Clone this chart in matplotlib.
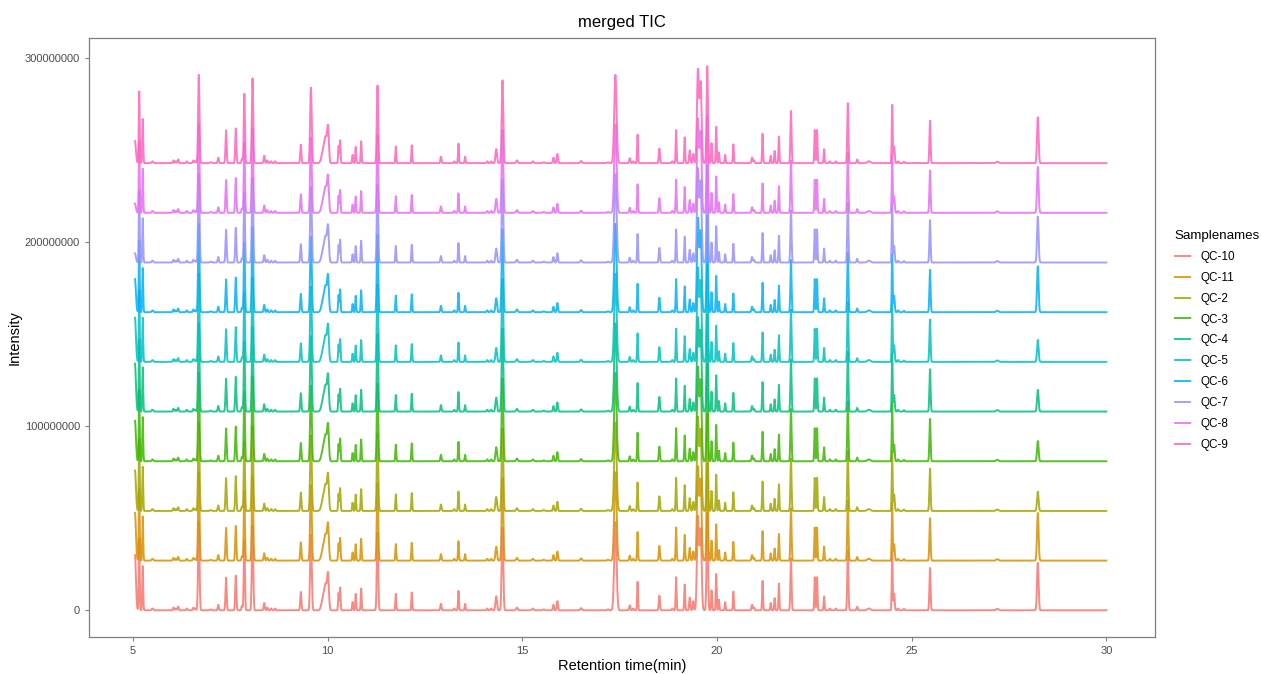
import numpy as np
import matplotlib
matplotlib.use("Agg")
import matplotlib.pyplot as plt
from matplotlib.lines import Line2D

plt.rcParams["font.family"] = ["Liberation Sans", "DejaVu Sans"]

# ---------------------------------------------------------
# data (intensities in units of 1e6)
# ---------------------------------------------------------
SAMPLES = ["QC-10", "QC-11", "QC-2", "QC-3", "QC-4",
           "QC-5", "QC-6", "QC-7", "QC-8", "QC-9"]
COLORS = ["#F8766D", "#D89000", "#A3A500", "#39B600", "#00BF7D",
          "#00BFC4", "#00B0F6", "#9590FF", "#E76BF3", "#FF62BC"]
BASELINES = [0, 27, 54, 81, 108, 135, 162, 189, 216, 243]
START_LEVEL = [30, 26, 22, 22, 26, 24, 18, 5, 5, 12]
LATE_PEAK = [26, 26, 10.5, 11, 11.8, 12, 25, 25, 25, 25]   # peak at 28.24 min

PEAK_RT = [5.16, 5.25, 5.50, 6.04, 6.10, 6.16, 6.38, 6.55, 6.60, 6.69,
           7.00, 7.19, 7.39, 7.64, 7.80, 7.86, 8.07, 8.37, 8.45, 8.55,
           8.65, 9.31, 9.57, 9.88, 9.95, 10.01, 10.28, 10.32, 10.64, 10.72,
           10.86, 11.28, 11.75, 12.16, 12.91, 13.25, 13.36, 13.53, 14.10, 14.20,
           14.33, 14.49, 14.86, 15.27, 15.55, 15.80, 15.90, 16.51, 17.20, 17.39,
           17.76, 17.85, 17.96, 18.52, 18.85, 18.95, 19.17, 19.30, 19.39, 19.51,
           19.58, 19.75, 19.86, 19.98, 20.05, 20.21, 20.42, 20.90, 20.95, 21.17,
           21.38, 21.48, 21.59, 21.90, 22.51, 22.57, 22.75, 22.90, 23.05, 23.36,
           23.60, 23.90, 24.50, 24.55, 24.65, 24.80, 25.47, 27.20]
PEAK_HEIGHT = [39.5, 24, 1.0, 1.5, 1.0, 2.0, 1.0, 1.5, 1.0, 48,
               0.5, 3, 17.8, 19, 2.5, 38, 46, 4, 1.5, 1.0,
               1.0, 10, 41, 6, 13, 17.5, 9.4, 12.5, 4.5, 9,
               12, 42.4, 9, 9.8, 3.5, 1.0, 10.7, 3.5, 1.0, 1.0,
               7.6, 45, 1.5, 1.0, 0.5, 3, 5, 1.2, 0.5, 48,
               2.7, 1.0, 15.7, 8, 1.0, 18, 14, 7, 5, 50.5,
               43.5, 52.7, 11, 20, 5.8, 4.5, 10.3, 3, 1.5, 16,
               4, 6.7, 14.5, 28.6, 18, 18, 7.6, 1.0, 1.0, 32.8,
               2, 1, 32, 9, 1.0, 0.8, 23, 0.8]
PEAK_WIDTH = [0.012, 0.012, 0.02, 0.015, 0.015, 0.015, 0.015, 0.015, 0.015, 0.018,
              0.02, 0.015, 0.015, 0.015, 0.015, 0.015, 0.018, 0.015, 0.015, 0.015,
              0.015, 0.015, 0.02, 0.04, 0.035, 0.022, 0.012, 0.012, 0.012, 0.012,
              0.012, 0.018, 0.012, 0.012, 0.015, 0.015, 0.012, 0.012, 0.015, 0.015,
              0.02, 0.02, 0.02, 0.02, 0.02, 0.015, 0.015, 0.02, 0.02, 0.03,
              0.015, 0.015, 0.012, 0.015, 0.015, 0.012, 0.012, 0.015, 0.015, 0.025,
              0.025, 0.018, 0.012, 0.012, 0.012, 0.012, 0.012, 0.015, 0.015, 0.012,
              0.012, 0.012, 0.012, 0.015, 0.012, 0.012, 0.012, 0.015, 0.015, 0.015,
              0.015, 0.04, 0.012, 0.015, 0.015, 0.015, 0.015, 0.03]

rt = np.arange(5.05, 30.0001, 0.004)


def trace(i):
    y = np.zeros_like(rt)
    for c, h, w in zip(PEAK_RT, PEAK_HEIGHT, PEAK_WIDTH):
        y += h * np.exp(-0.5 * ((rt - c) / w) ** 2)
    y += START_LEVEL[i] * np.exp(-0.5 * ((rt - 5.05) / 0.025) ** 2)
    y += LATE_PEAK[i] * np.exp(-0.5 * ((rt - 28.24) / 0.02) ** 2)
    return (y + BASELINES[i]) * 1e6


fig = plt.figure(figsize=(12.61, 6.74), dpi=100)
ax = fig.add_axes([89 / 1261, 1 - 637 / 674, (1155 - 89) / 1261, (637 - 38) / 674])

for i, name in enumerate(SAMPLES):
    ax.plot(rt, trace(i), color=COLORS[i], lw=1.4, alpha=0.85, solid_joinstyle="round")

ax.set_xlim(3.87, 31.25)
ax.set_ylim(-14.5e6, 311e6)
ax.set_xticks([5, 10, 15, 20, 25, 30])
ax.set_yticks([0, 100000000, 200000000, 300000000])
ax.set_yticklabels(["0", "100000000", "200000000", "300000000"])
ax.tick_params(labelcolor="#4D4D4D", labelsize=8, length=3, width=0.8, color="#7F7F7F")
for s in ax.spines.values():
    s.set_color("#7F7F7F")
    s.set_linewidth(0.9)

ax.set_xlabel("Retention time(min)", fontsize=10.5, labelpad=2)
ax.set_ylabel("Intensity", fontsize=10.5, labelpad=2)
ax.set_title("merged TIC", fontsize=12, pad=8)

handles = [Line2D([0], [0], color=c, lw=1.4, alpha=0.85) for c in COLORS]
fig.legend(handles, SAMPLES, title="Samplenames", loc="center left",
           bbox_to_anchor=(1164 / 1261, 0.495), frameon=False, fontsize=8.5,
           title_fontsize=9.6, handlelength=1.3, handletextpad=0.9,
           labelspacing=0.75, alignment="left")

fig.savefig("out.png", dpi=100)
